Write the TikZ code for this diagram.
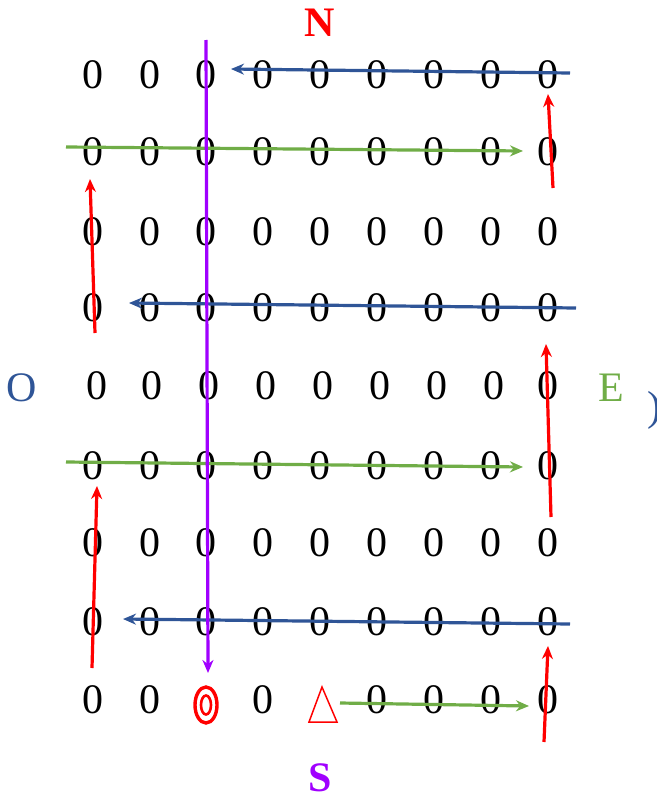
\documentclass[tikz,border=0pt]{standalone}
\usepackage{fontspec}
\setmainfont{Liberation Serif}
\usetikzlibrary{arrows.meta}
\definecolor{cblue}{RGB}{47,85,151}
\definecolor{cgreen}{RGB}{112,173,71}
\definecolor{cred}{RGB}{255,0,0}
\definecolor{cpurple}{RGB}{160,0,255}
\begin{document}
\begin{tikzpicture}[x=1pt,y=-1pt,
  digit/.style={font=\fontsize{42}{42}\selectfont, inner sep=0pt},
  lbl/.style={font=\fontsize{42}{42}\selectfont, inner sep=0pt},
  tip/.style={-{Stealth[length=13pt,width=11pt]}},
  bluearrow/.style={tip, draw=cblue, line width=3.2pt},
  greenarrow/.style={tip, draw=cgreen, line width=3.2pt},
  redarrow/.style={tip, draw=cred, line width=3.2pt},
  purplearrow/.style={tip, draw=cpurple, line width=3.2pt}]
\useasboundingbox (0,0) rectangle (656,803);
% grid of zeros
\foreach \r/\y in {1/75,2/152,3/232,4/308,6/466,7/543,8/622}{
  \foreach \c/\x in {1/93,2/150,3/206,4/263,5/320,6/377,7/434,8/491,9/548}{
    \node[digit] (g-\r-\c) at (\x,\y) {0};
  }
}
\foreach \c/\x in {1/97,2/152,3/209,4/266,5/323,6/380,7/437,8/494,9/548}{
  \node[digit] (g-5-\c) at (\x,386) {0};
}
\foreach \c/\x in {1/93,2/150,4/263,6/377,7/434,8/491,9/548}{
  \node[digit] (g-9-\c) at (\x,700) {0};
}
% target and triangle
\node[inner sep=0pt, minimum width=0pt] (target) at (206,705) {};
\draw[cred, line width=3.4pt] (target) ellipse [x radius=11, y radius=18];
\draw[cred, line width=2.6pt] (target) ellipse [x radius=5, y radius=9.5];
\coordinate (tria) at (322,687);
\coordinate (trib) at (309,722);
\coordinate (tric) at (337,722);
\draw[cred, line width=1.5pt, line join=miter] (tria) -- (trib) -- (tric) -- cycle;
% compass labels
\node[lbl, text=cred, font=\fontsize{42}{42}\selectfont\bfseries] (N) at (320,23) {N};
\node[lbl, text=cpurple, font=\fontsize{42}{42}\selectfont\bfseries] (S) at (320,778) {S};
\node[lbl, text=cblue] (O) at (22,388) {O};
\node[lbl, text=cgreen] (E) at (611,388) {E};
\node[lbl, text=cblue, anchor=west] (par) at (647,410) {)};
% blue arrows (leftwards)
\coordinate (b1s) at (570,73); \coordinate (b1e) at (231,69);
\coordinate (b2s) at (576,308); \coordinate (b2e) at (129,303);
\coordinate (b3s) at (570,624); \coordinate (b3e) at (123,619);
\draw[bluearrow] (b1s) -- (b1e);
\draw[bluearrow] (b2s) -- (b2e);
\draw[bluearrow] (b3s) -- (b3e);
% green arrows (rightwards)
\coordinate (gr1s) at (66,147); \coordinate (gr1e) at (523,151);
\coordinate (gr2s) at (66,462); \coordinate (gr2e) at (523,467);
\coordinate (gr3s) at (340,703); \coordinate (gr3e) at (529,706);
\draw[greenarrow] (gr1s) -- (gr1e);
\draw[greenarrow] (gr2s) -- (gr2e);
\draw[greenarrow] (gr3s) -- (gr3e);
% red arrows (upwards)
\coordinate (r1s) at (553,188); \coordinate (r1e) at (548,94);
\coordinate (r2s) at (95,333); \coordinate (r2e) at (90,179);
\coordinate (r3s) at (551,517); \coordinate (r3e) at (546,344);
\coordinate (r4s) at (92,668); \coordinate (r4e) at (97,486);
\coordinate (r5s) at (544,742); \coordinate (r5e) at (548,646);
\draw[redarrow] (r1s) -- (r1e);
\draw[redarrow] (r2s) -- (r2e);
\draw[redarrow] (r3s) -- (r3e);
\draw[redarrow] (r4s) -- (r4e);
\draw[redarrow] (r5s) -- (r5e);
% purple arrow (downwards)
\coordinate (ps) at (206,40); \coordinate (pe) at (208,673);
\draw[purplearrow] (ps) -- (pe);
\end{tikzpicture}
\end{document}
